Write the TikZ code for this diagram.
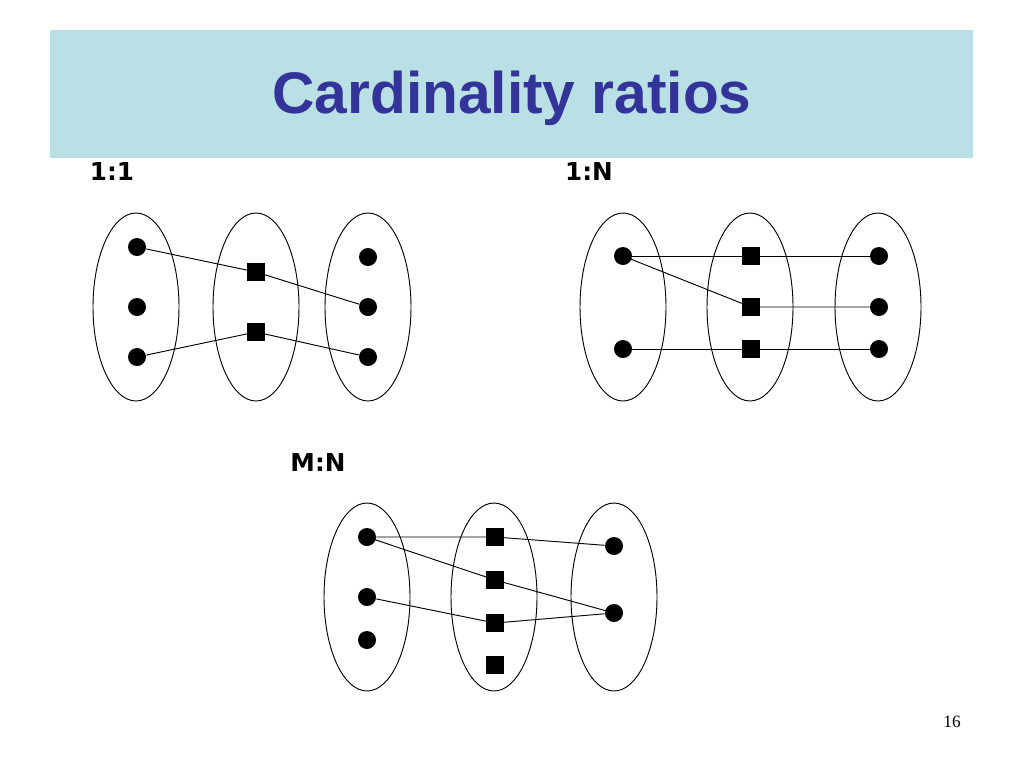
\documentclass[tikz,border=0pt]{standalone}
\usepackage{fontspec}
\setmainfont{Liberation Serif}
\newfontfamily\titlefont{Liberation Sans}
\newfontfamily\labelfont{DejaVu Sans}
\usetikzlibrary{shapes.geometric}
\definecolor{bandblue}{RGB}{185,224,229}
\definecolor{titleblue}{RGB}{51,51,153}

\begin{document}
\begin{tikzpicture}[x=0.75pt,y=-0.75pt,
                set/.style={draw, ellipse, inner sep=0pt, line width=0.7pt,
                    minimum width=64.5pt, minimum height=141pt},
                ent/.style={circle, fill=black, inner sep=0pt, minimum size=13.5pt},
                rel/.style={rectangle, fill=black, inner sep=0pt, minimum size=13pt},
                ratio/.style={font=\labelfont\bfseries\fontsize{18.5}{22}\selectfont},
                every path/.style={line width=0.7pt}]
            \useasboundingbox (0,0) rectangle (1024,768);

            % title band
            \fill[bandblue] (50,30) rectangle (973,158);
            \node[font=\titlefont\bfseries\fontsize{44}{52}\selectfont, text=titleblue] (title) at (512,98) {Cardinality ratios};

            % 1:1
            \node[ratio] (lab11) at (112,172) {1:1};
            \node[set] (a1) at (136,307) {};
            \node[set] (a2) at (256,307) {};
            \node[set] (a3) at (368,307) {};
            \node[ent] (e11) at (137,247) {};
            \node[ent] (e12) at (137,307) {};
            \node[ent] (e13) at (137,357) {};
            \node[rel] (r11) at (256,272) {};
            \node[rel] (r12) at (256,332) {};
            \node[ent] (f11) at (368,257) {};
            \node[ent] (f12) at (368,307) {};
            \node[ent] (f13) at (368,357) {};
            \draw (e11) -- (r11) -- (f12);
            \draw (e13) -- (r12) -- (f13);

            % 1:N
            \node[ratio] (lab1n) at (589,172) {1:N};
            \node[set] (b1) at (623,307) {};
            \node[set] (b2) at (750,307) {};
            \node[set] (b3) at (878,307) {};
            \node[ent] (e21) at (623,256) {};
            \node[ent] (e22) at (623,349) {};
            \node[rel] (r21) at (751,256) {};
            \node[rel] (r22) at (751,307) {};
            \node[rel] (r23) at (751,349) {};
            \node[ent] (f21) at (879,256) {};
            \node[ent] (f22) at (879,307) {};
            \node[ent] (f23) at (879,349) {};
            \draw (e21) -- (r21) -- (f21);
            \draw (e21.center) -- (r22) -- (f22);
            \draw (e22) -- (r23) -- (f23);

            % M:N
            \node[ratio] (labmn) at (318,463) {M:N};
            \node[set] (c1) at (367,597) {};
            \node[set] (c2) at (494,597) {};
            \node[set] (c3) at (614,597) {};
            \node[ent] (e31) at (367,537) {};
            \node[ent] (e32) at (367,597) {};
            \node[ent] (e33) at (367,640) {};
            \node[rel] (r31) at (495,537) {};
            \node[rel] (r32) at (495,580) {};
            \node[rel] (r33) at (495,623) {};
            \node[rel] (r34) at (495,665) {};
            \node[ent] (f31) at (614,546) {};
            \node[ent] (f32) at (614,613) {};
            \draw (e31) -- (r31) -- (f31);
            \draw (e31.center) -- (r32) -- (f32.center);
            \draw (e32) -- (r33) -- (f32);

            % page number
            \node[font=\fontsize{13}{15}\selectfont] (page) at (952,722) {16};
        \end{tikzpicture}
\end{document}
